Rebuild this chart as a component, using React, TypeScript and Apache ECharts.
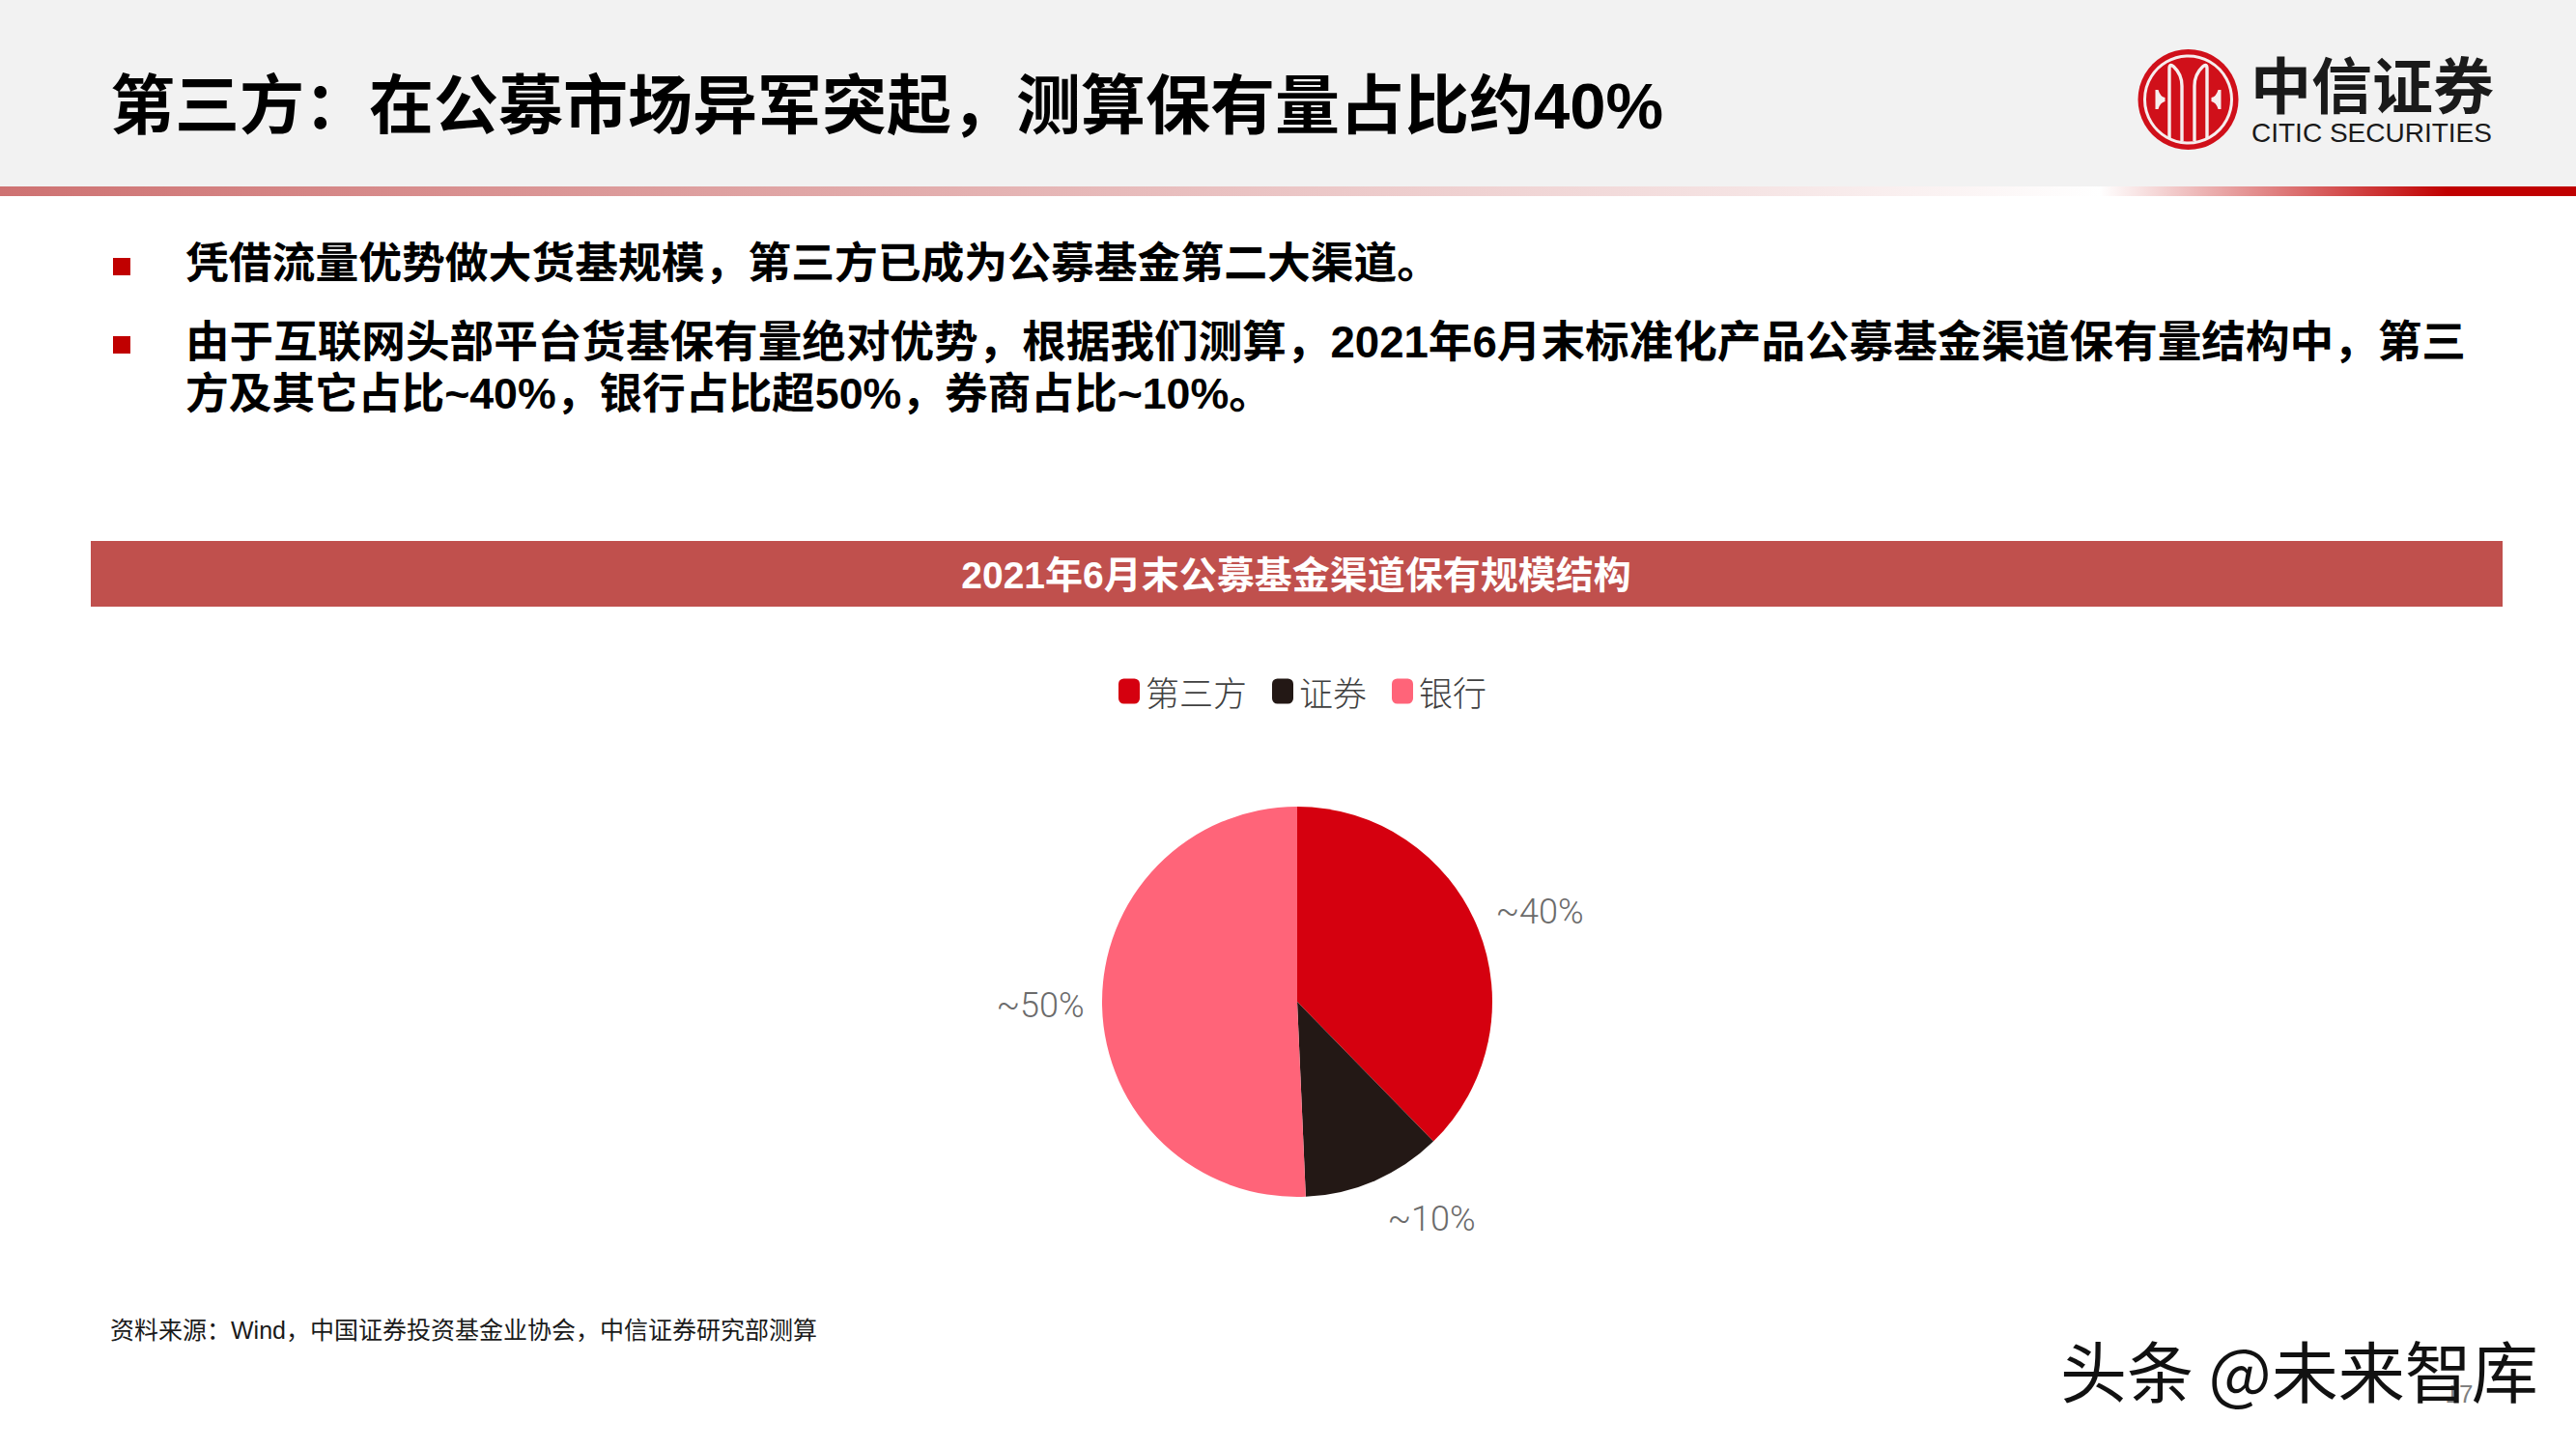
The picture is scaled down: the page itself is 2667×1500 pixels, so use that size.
import React, { useEffect, useRef } from "react";
import * as echarts from "echarts";

const categories = ["第三方", "证券", "银行"];
const seriesValues = [37.7, 11.6, 50.7];
const labelTexts = ["~40%", "~10%", "~50%"];
const sliceColors = ["#d5000f", "#231815", "#ff6479"];
const titleText = "第三方：在公募市场异军突起，测算保有量占比约40%";
const bodyLines = [
  "凭借流量优势做大货基规模，第三方已成为公募基金第二大渠道。",
  "由于互联网头部平台货基保有量绝对优势，根据我们测算，2021年6月末标准化产品公募基金渠道保有量结构中，第三",
  "方及其它占比~40%，银行占比超50%，券商占比~10%。",
];
const bandTitle = "2021年6月末公募基金渠道保有规模结构";
const sourceText = "资料来源：Wind，中国证券投资基金业协会，中信证券研究部测算";
const watermark = "头条 @未来智库";
const pageNumber = "17";

const FONT = '"Liberation Sans", "Noto Sans CJK SC", sans-serif';

echarts.graphic.registerShape(
  "citicArches",
  echarts.graphic.extendPath(
    "M-19.5 40 L-19.5 -32 Q-19.5 -38 -15 -34 Q-6.5 -26 -6.5 -14 L-6.5 43 M19.5 40 L19.5 -32 Q19.5 -38 15 -34 Q6.5 -26 6.5 -14 L6.5 43",
    {}
  )
);
echarts.graphic.registerShape(
  "citicFlares",
  echarts.graphic.extendPath(
    "M-34 -10 L-31 -10 Q-29 -3 -24 -2 L-24 2 Q-29 3 -31 10 L-34 10 Z M34 -10 L31 -10 Q29 -3 24 -2 L24 2 Q29 3 31 10 L34 10 Z",
    {}
  )
);

const txt = (text: string, x: number, y: number, fontSize: number, fontWeight: any, fill: string, align = "left", fontFamily = FONT) => ({
  type: "text",
  style: { text, x, y, fontSize, fontWeight, fill, align, verticalAlign: "middle", fontFamily },
});

export default function App() {
  const ref = useRef<HTMLDivElement>(null);
  useEffect(() => {
    const chart = echarts.init(ref.current!, undefined, { renderer: "svg" });
    const barFill = new echarts.graphic.LinearGradient(0, 0, 1, 0, [
      { offset: 0, color: "#ce7272" },
      { offset: 0.675, color: "#f5e3e3" },
      { offset: 0.815, color: "#ffffff" },
      { offset: 0.83, color: "#f8e4e4" },
      { offset: 0.95, color: "#c00000" },
      { offset: 1, color: "#c00000" },
    ]);
    const labelCenters = [
      [1594, 944],
      [1482, 1262],
      [1077, 1041],
    ];
    chart.setOption({
      animation: false,
      backgroundColor: "#ffffff",
      legend: {
        data: categories,
        left: 1153,
        top: 693,
        icon: "roundRect",
        itemWidth: 22,
        itemHeight: 26,
        itemGap: 26,
        textStyle: { fontSize: 35, color: "#404040", fontFamily: '"Noto Sans CJK SC"', fontWeight: 300, padding: [0, 0, 0, 1] },
      },
      series: [
        {
          type: "pie",
          center: [1343, 1037],
          radius: 202,
          startAngle: 90,
          clockwise: true,
          silent: true,
          data: categories.map((name, i) => ({
            name,
            value: seriesValues[i],
            itemStyle: { color: sliceColors[i] },
            label: { formatter: labelTexts[i] },
          })),
          label: { show: true, position: "outside", fontSize: 36, fontWeight: 300, color: "#6b6b6b", fontFamily: "Roboto" },
          labelLine: { show: false },
          labelLayout: (p: any) => ({
            x: labelCenters[p.dataIndex][0],
            y: labelCenters[p.dataIndex][1],
            align: "center",
            verticalAlign: "middle",
          }),
        },
      ],
      graphic: [
        { type: "rect", shape: { x: 0, y: 0, width: 2667, height: 193 }, style: { fill: "#f2f2f2" } },
        { type: "rect", shape: { x: 0, y: 193, width: 2667, height: 10 }, style: { fill: barFill } },
        txt(titleText, 114, 109, 67, 700, "#000000"),
        { type: "circle", shape: { cx: 2265.5, cy: 103, r: 52 }, style: { fill: "#d0101a" } },
        { type: "circle", shape: { cx: 2265.5, cy: 103, r: 45 }, style: { fill: "none", stroke: "#f6eeee", lineWidth: 3 } },
        { type: "citicArches", x: 2265.5, y: 103, style: { fill: "none", stroke: "#f6eeee", lineWidth: 3.4 } },
        { type: "citicFlares", x: 2265.5, y: 103, style: { fill: "#f6eeee" } },
        txt("中信证券", 2330, 90, 63, 700, "#1a1a1a"),
        txt("CITIC SECURITIES", 2331, 137, 28, 400, "#1a1a1a"),
        { type: "rect", shape: { x: 117, y: 267, width: 18, height: 18 }, style: { fill: "#c00000" } },
        { type: "rect", shape: { x: 117, y: 348, width: 18, height: 18 }, style: { fill: "#c00000" } },
        txt(bodyLines[0], 192, 272, 44.8, 700, "#000000"),
        txt(bodyLines[1], 192, 354, 45.6, 700, "#000000"),
        txt(bodyLines[2], 192, 407, 44.7, 700, "#000000"),
        { type: "rect", shape: { x: 94, y: 560, width: 2497, height: 68 }, style: { fill: "#c0504d" } },
        txt(bandTitle, 1342, 595, 39, 700, "#ffffff", "center"),
        txt(sourceText, 114, 1377, 25, 400, "#1a1a1a"),
        txt(pageNumber, 2546, 1443, 26, 400, "#808080", "center"),
        txt(watermark, 2133, 1417, 69, 400, "#111111", "left", '"Noto Sans CJK SC", sans-serif'),
      ],
    });
    return () => chart.dispose();
  }, []);
  return <div ref={ref} style={{ position: "absolute", left: 0, top: 0, width: 2667, height: 1500 }} />;
}
